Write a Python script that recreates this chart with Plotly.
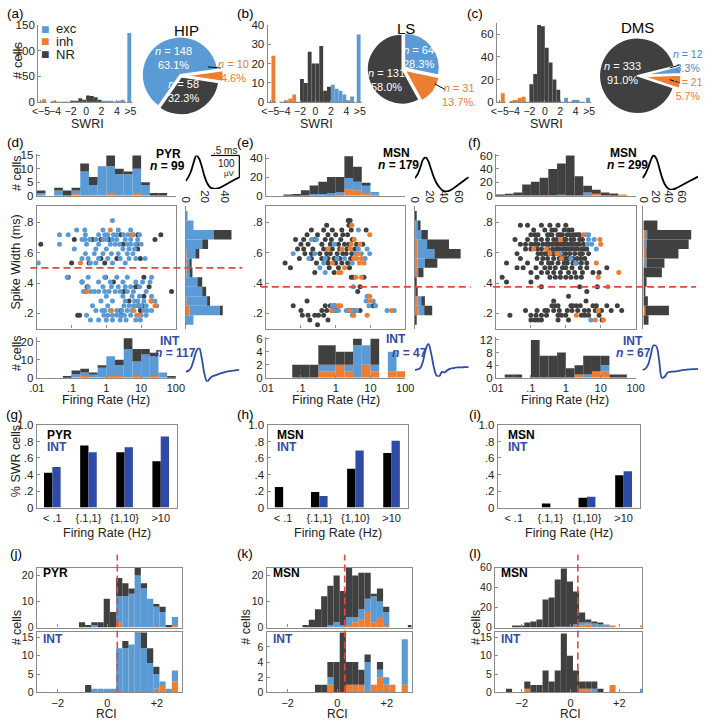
import plotly.graph_objects as go

W, H = 709, 726
FONT = "Liberation Sans, Arial, Helvetica, sans-serif"
C_EXC = "#5B9BD5"
C_INH = "#ED7D31"
C_NR = "#404040"
C_INT = "#2F4BA6"
C_RED = "#E5463D"
C_AX = "#8A8A8A"
C_TXT = "#222222"

# ---------------- (a)-(c) SWRI histograms ----------------
SWRI_BINS = [-5.45, -4.25, -3.75, -3.25, -2.75, -2.25, -1.75, -1.25, -0.75, -0.25,
             0.25, 0.75, 1.25, 1.75, 2.25, 2.75, 3.25, 3.75, 4.25, 4.75, 5.6]
SWRI_TICKS = [-5.85, -4, -2, 0, 2, 4, 5.75]
SWRI_TICKTEXT = ["<\u22125", "\u22124", "\u22122", "0", "2", "4", ">5"]
SWRI_SEGMENTS = [-6.2, -5.1, None, -4.65, 5.2, None, 5.3, 6.0]

HIP_INH = [6, 2, 1, 0, 1, 0, 0, 0, 0, 0, 0, 0, 0, 0, 0, 0, 0, 0, 0, 0, 0]
HIP_EXC = [0, 0, 0, 0, 0, 0, 0, 0, 0, 0, 0, 0, 0, 0, 2, 2, 2, 1, 2, 5, 134]
HIP_NR = [0, 0, 0, 0, 0, 0, 2, 3, 8, 5, 13, 12, 10, 5, 0, 0, 0, 0, 0, 0, 0]
LS_INH = [24, 0, 1, 2, 4, 0, 0, 0, 0, 0, 0, 0, 0, 0, 0, 0, 0, 0, 0, 0, 0]
LS_EXC = [0, 0, 0, 0, 0, 0, 0, 0, 0, 0, 0, 0, 0, 0, 9, 7, 6, 4, 1, 3, 35]
LS_NR = [0, 0, 0, 0, 0, 0, 12, 10, 26, 20, 20, 29, 6, 8, 0, 0, 0, 0, 0, 0, 0]
DMS_INH = [8, 1, 2, 4, 5, 0, 0, 0, 0, 0, 0, 0, 0, 0, 0, 0, 0, 0, 0, 0, 0]
DMS_EXC = [0, 0, 0, 0, 0, 0, 0, 0, 0, 0, 0, 0, 0, 0, 0, 4, 0, 2, 2, 0, 4]
DMS_NR = [0, 0, 0, 0, 0, 0, 16, 25, 68, 67, 48, 35, 20, 11, 0, 0, 0, 0, 0, 0, 0]

# pies (percentages and counts, per region)
HIP_PIE = {"inh": (4.6, 10), "NR": (32.3, 58), "exc": (63.1, 148)}
LS_PIE = {"exc": (28.3, 64), "inh": (13.7, 31), "NR": (58.0, 131)}
DMS_PIE = {"exc": (3.3, 12), "inh": (5.7, 21), "NR": (91.0, 333)}

# ---------------- (d)-(f) firing rate / spike width ----------------
LOGF_BINS = [-1.875, -1.625, -1.375, -1.125, -0.875, -0.625, -0.375, -0.125,
             0.125, 0.375, 0.625, 0.875, 1.125, 1.375, 1.625, 1.875]
LOGF_TICKS = [-2, -1, 0, 1, 2]
LOGF_TICKTEXT = [".01", ".1", "1", "10", "100"]

D_TOP_INH = [0, 0, 0, 0, 1, 0, 0, 0, 1, 0, 0, 1, 0, 0, 0, 0]
D_TOP_EXC = [1, 0, 2, 0, 1, 9, 4, 11, 10, 8, 8, 9, 4, 0, 0, 0]
D_TOP_NR = [1, 0, 1, 2, 1, 3, 3, 0, 4, 2, 1, 5, 1, 1, 1, 0]
D_BOT_INH = [0, 0, 0, 0, 0, 1, 0, 0, 1, 1, 0, 1, 0, 1, 0, 0]
D_BOT_EXC = [0, 0, 0, 0, 2, 2, 2, 6, 11, 6, 16, 8, 13, 11, 3, 0]
D_BOT_NR = [0, 0, 0, 1, 2, 2, 1, 1, 0, 3, 6, 7, 3, 2, 0, 1]
E_TOP_INH = [0, 0, 0, 0, 0, 0, 0, 1, 2, 7, 6, 3, 1, 0, 0, 0]
E_TOP_EXC = [0, 0, 0, 0, 0, 2, 2, 2, 2, 12, 9, 9, 3, 0, 0, 0]
E_TOP_NR = [0, 0, 1, 2, 6, 9, 13, 17, 16, 23, 16, 2, 0, 0, 0, 0]
E_BOT_INH = [0, 0, 0, 0, 0, 0, 1, 1, 2, 1, 0, 2, 1, 0, 1, 1]
E_BOT_EXC = [0, 0, 0, 0, 0, 0, 1, 1, 0, 1, 5, 3, 1, 0, 3, 0]
E_BOT_NR = [0, 0, 0, 2, 2, 2, 3, 3, 2, 2, 1, 0, 4, 0, 0, 0]
F_TOP_INH = [0, 0, 0, 0, 1, 0, 1, 1, 1, 0, 1, 3, 1, 1, 1, 0]
F_TOP_EXC = [0, 0, 0, 0, 0, 0, 0, 1, 0, 0, 4, 0, 0, 0, 0, 0]
F_TOP_NR = [2, 3, 5, 17, 20, 27, 39, 46, 59, 29, 10, 6, 4, 2, 0, 0]
F_BOT_INH = [0, 0, 0, 0, 0, 0, 0, 0, 0, 1, 0, 2, 2, 0, 0, 0]
F_BOT_EXC = [0, 0, 0, 0, 0, 0, 0, 0, 0, 0, 1, 0, 2, 0, 0, 0]
F_BOT_NR = [0, 1, 1, 0, 12, 7, 7, 8, 3, 3, 6, 5, 3, 1, 1, 0]

SW_BINS = [0.15625, 0.21875, 0.28125, 0.34375, 0.40625, 0.46875,
           0.53125, 0.59375, 0.65625, 0.71875, 0.78125, 0.84375]
SW_TICKS = [0.2, 0.4, 0.6, 0.8]
SW_TICKTEXT = [".2", ".4", ".6", ".8"]
D_SIDE_INH = [0, 4, 1, 0, 0, 1, 1, 1, 0, 0, 0, 0]
D_SIDE_EXC = [8, 31, 21, 17, 12, 3, 4, 9, 17, 29, 8, 2]
D_SIDE_NR = [0, 3, 3, 4, 5, 3, 1, 4, 6, 18, 0, 0]
E_SIDE_INH = [0, 5, 4, 1, 0, 3, 4, 4, 4, 2, 1, 0]
E_SIDE_EXC = [0, 8, 5, 1, 1, 2, 10, 23, 13, 7, 3, 0]
E_SIDE_NR = [2, 11, 5, 1, 1, 7, 17, 36, 30, 9, 4, 2]
F_SIDE_INH = [0, 3, 0, 0, 0, 0, 3, 4, 3, 4, 0, 0]
F_SIDE_EXC = [0, 0, 0, 0, 0, 0, 2, 1, 2, 2, 0, 0]
F_SIDE_NR = [8, 37, 7, 3, 5, 29, 28, 50, 66, 71, 22, 0]

THR_HIP = 0.5
THR_STR = 0.375

# scatter: spike width (ms) -> firing rates (Hz)
D_NR = {0.71875: [2.6, 8.0, 37.0], 0.6875: [0.12, 0.4, 0.7, 1.2, 25.0], 0.65625: [0.013, 3.0, 7.5],
        0.625: [8.0], 0.5625: [0.7, 2.0, 9.5], 0.53125: [0.1, 0.32, 0.9], 0.4375: [0.08, 0.95, 12.0],
        0.40625: [0.2, 1.6], 0.375: [0.28, 7.0, 8.0, 17.0], 0.34375: [0.25, 3.2, 75.0], 0.3125: [12.0],
        0.28125: [4.5, 20.0], 0.25: [8.5, 11.0], 0.21875: [2.6, 9.5], 0.1875: [0.15, 0.17, 2.7]}
D_EXC = {0.8125: [1.5], 0.75: [0.14, 0.24, 0.8, 2.2, 5.0],
         0.71875: [0.045, 0.08, 0.25, 0.6, 0.9, 1.1, 1.6, 2.0, 3.1, 4.2, 6.0, 9.0],
         0.6875: [0.2, 0.24, 0.33, 0.5, 0.8, 1.0, 1.5, 2.0, 3.5, 5.0, 8.0],
         0.65625: [0.045, 0.27, 0.6, 1.3, 1.8, 2.4, 4.0, 5.0, 7.0, 10.0],
         0.625: [0.12, 0.5, 1.0, 3.0, 4.5, 6.5], 0.59375: [0.25, 0.45, 0.8, 1.4, 2.2, 4.0, 5.8],
         0.5625: [0.2, 0.3, 0.6, 1.1, 2.5, 4.5, 7.0, 13.0], 0.53125: [0.011, 0.35, 0.5, 1.5, 3.5],
         0.4375: [0.075, 0.3, 0.9, 2.0, 4.0, 20.0], 0.40625: [0.2, 0.6, 1.3, 3.0, 7.0, 11.0, 18.0],
         0.375: [0.3, 0.8, 1.4, 2.2, 3.5, 5.0, 9.0],
         0.34375: [0.22, 0.35, 0.45, 0.6, 0.9, 1.2, 1.8, 2.5, 4.0, 6.0, 14.0],
         0.3125: [1.0, 3.0, 5.5, 9.0, 20.0], 0.28125: [0.7, 1.5, 3.5, 6.5, 8.0, 12.0, 25.0],
         0.25: [0.4, 1.1, 3.2, 4.5, 6.0, 7.5, 10.0, 14.0, 28.0],
         0.21875: [0.5, 0.75, 0.9, 1.3, 2.0, 2.8, 4.0, 5.5, 12.0, 15.0, 20.0],
         0.1875: [0.27, 0.85, 1.1, 1.5, 2.0, 2.5, 3.3, 5.0, 7.5, 10.0, 14.0],
         0.15625: [0.35, 0.6, 1.0, 1.5, 2.5, 3.7, 7.0, 9.5]}
D_INH = {0.75: [1.3], 0.71875: [5.5], 0.53125: [0.18], 0.34375: [0.27], 0.28125: [19.0],
         0.25: [25.0], 0.21875: [1.4, 6.2], 0.1875: [8.5]}

E_NR = {0.8125: [2.3, 2.6], 0.78125: [0.55, 2.4], 0.75: [0.2, 0.45, 0.8, 1.5, 2.8, 7.5],
        0.71875: [0.15, 0.3, 0.6, 1.0, 1.6, 2.2], 0.6875: [0.07, 0.12, 0.25, 0.5, 0.75, 1.4, 3.0],
        0.65625: [0.1, 0.16, 0.4, 0.7, 1.2, 1.8, 2.4, 4.0, 6.0],
        0.625: [0.08, 0.12, 0.22, 0.45, 0.8, 1.3, 2.1, 3.5],
        0.59375: [0.13, 0.2, 0.35, 0.55, 0.7, 1.1, 1.6, 2.0, 2.9],
        0.5625: [0.09, 0.2, 0.4, 0.6, 0.9, 1.3, 2.7], 0.53125: [0.035, 0.28, 0.6, 1.0, 1.5, 2.2],
        0.5: [0.05, 0.65, 1.2, 2.5], 0.46875: [0.25, 0.9], 0.4375: [2.8, 3.2, 6.5], 0.375: [5.0],
        0.34375: [4.3], 0.28125: [0.15], 0.25: [0.06, 0.5, 0.7, 0.9, 12.0, 13.0],
        0.21875: [0.1, 0.4, 0.55, 0.8, 1.0, 2.4, 2.8, 3.5, 5.0],
        0.1875: [0.11, 0.16, 0.25, 0.32, 0.45], 0.15625: [0.18, 0.6], 0.125: [0.3]}
E_EXC = {0.75: [4.5], 0.6875: [0.2, 0.28], 0.65625: [0.9], 0.625: [4.5, 8.0],
         0.59375: [0.06, 0.25, 3.8, 5.5, 9.5], 0.5625: [0.17, 0.5, 1.1, 1.8, 7.0], 0.53125: [0.45, 3.0],
         0.5: [0.35], 0.46875: [0.5], 0.375: [3.2], 0.3125: [8.0, 9.0], 0.28125: [7.5, 12.0],
         0.25: [0.8, 1.0, 9.0, 14.0], 0.21875: [0.9, 1.2, 2.0, 3.2, 4.0, 30.0, 48.0], 0.1875: [3.0]}
E_INH = {0.78125: [2.9], 0.71875: [9.5], 0.6875: [3.4], 0.65625: [2.8, 5.0], 0.625: [0.6, 1.5, 2.6],
         0.59375: [4.5], 0.5625: [3.3, 4.0, 5.5], 0.53125: [0.8, 4.8, 6.5], 0.5: [1.8],
         0.46875: [1.2, 1.4], 0.4375: [3.8, 5.5], 0.3125: [9.5], 0.28125: [10.0], 0.25: [1.2, 1.4],
         0.21875: [0.75, 2.6, 40.0], 0.1875: [3.3, 8.0]}

F_NR = {0.78125: [0.05, 0.08, 0.2, 0.35, 0.6, 1.0], 0.75: [0.12, 0.25, 0.4, 0.5, 0.9, 1.2, 1.5],
        0.71875: [0.1, 0.13, 0.16, 0.3, 0.35, 0.4, 0.6, 0.7, 0.8, 1.1, 1.3, 1.6, 1.9, 2.2, 2.5],
        0.6875: [0.035, 0.08, 0.14, 0.2, 0.3, 0.45, 0.55, 0.9, 1.0, 1.4, 1.7, 2.5, 3.0],
        0.65625: [0.05, 0.07, 0.1, 0.13, 0.16, 0.22, 0.28, 0.33, 0.4, 0.5, 0.6, 0.75, 0.9, 1.1,
                  1.35, 1.6, 2.0, 2.4, 3.2],
        0.625: [0.07, 0.1, 0.15, 0.2, 0.3, 0.42, 0.55, 0.65, 0.85, 1.0, 1.2, 1.5, 1.8, 2.1, 2.8, 3.5, 4.0],
        0.59375: [0.04, 0.16, 0.2, 0.25, 0.3, 0.38, 0.45, 0.5, 0.6, 0.8, 1.0, 1.3, 1.8, 2.5, 3.0, 4.5],
        0.5625: [0.05, 0.15, 0.22, 0.3, 0.45, 0.65, 0.8, 1.0, 1.2, 1.6, 2.1, 2.7, 3.5],
        0.53125: [0.02, 0.08, 0.2, 0.32, 0.4, 0.6, 0.9, 1.1, 1.6, 2.0, 2.8, 4.0],
        0.5: [0.04, 0.06, 0.14, 0.25, 0.35, 0.5, 0.8, 1.0, 1.5, 2.6, 4.0, 15.0],
        0.46875: [0.1, 0.2, 0.3, 0.45, 0.7, 1.2, 1.8, 3.0, 6.0, 9.0],
        0.4375: [0.015, 0.15, 0.35, 0.5, 0.7, 1.0, 1.4, 2.0, 2.8], 0.40625: [0.02, 0.1],
        0.375: [0.2, 2.5, 8.0], 0.34375: [4.0], 0.3125: [1.2], 0.28125: [0.45, 3.8],
        0.25: [0.4, 0.5, 0.6, 1.4, 1.6, 2.0, 2.6, 6.0, 7.5, 15.0, 30.0],
        0.21875: [0.07, 0.15, 0.25, 0.3, 0.45, 0.65, 1.1, 1.5, 2.2, 3.4, 4.5, 7.0, 10.5, 20.0, 40.0],
        0.1875: [0.025, 0.1, 0.14, 0.2, 0.28, 0.6, 0.75, 1.0, 2.8, 3.5, 4.5, 9.0],
        0.15625: [0.1, 0.13, 0.16, 0.2, 0.6, 1.2, 11.0]}
F_EXC = {0.71875: [3.8, 4.5], 0.6875: [4.5, 6.5], 0.65625: [4.2, 5.5], 0.625: [7.5], 0.59375: [0.7],
         0.5625: [1.4], 0.53125: [1.9], 0.15625: [5.2]}
F_INH = {0.71875: [3.2], 0.6875: [0.7, 9.5], 0.65625: [10.0], 0.625: [0.12, 0.28],
         0.59375: [0.35, 0.55, 0.6], 0.5625: [0.75], 0.53125: [7.5], 0.46875: [33.0], 0.4375: [8.5],
         0.375: [16.0], 0.21875: [8.5], 0.1875: [2.0], 0.15625: [7.0, 12.0]}

# average waveforms (arbitrary amplitude units, 21 samples)
PYR_WAVE_D = [8, 12, 18, 27, 34, 31, 23, 13, 6, 2, 0.5, 0, 0.5, 1.5, 3, 4.5, 6, 7.5, 9, 10.5, 11.5]
INT_WAVE_D = [10.3, 11, 14, 22, 31, 34.5, 24, 8, 0, 3, 5.5, 6.5, 7.5, 8.5, 9.3, 10, 10.5, 11, 11.3, 11.7, 12]
MSN_WAVE_E = [14, 18, 25, 33, 35, 31, 23, 15, 9, 5, 2, 0.5, 0.5, 1.5, 3, 5, 7, 9, 11, 13, 15]
INT_WAVE_E = [7, 7.5, 9, 16, 28, 33.5, 24, 10, 1.5, 0.5, 5, 4.5, 6.5, 8, 8.8, 9.2, 9.5, 9.6, 9.7, 9.8, 9.8]
MSN_WAVE_F = [12, 16, 22, 30, 35, 32, 23, 13, 6, 2, 0.3, 0.5, 1.5, 3, 4.5, 6, 7.5, 9, 10.5, 12, 13.5]
INT_WAVE_F = [10, 11, 15, 25, 35, 34, 20, 2, 3, 7, 8, 8.3, 8.5, 9, 9.5, 10, 10.3, 10.5, 10.7, 10.8, 11]

# ---------------- (g)-(i) fraction of SWR cells ----------------
FR_CATS = ["< .1", "{.1,1}", "{1,10}", ">10"]
G_PYR = [0.42, 0.75, 0.67, 0.56]
G_INT = [0.49, 0.67, 0.73, 0.86]
H_MSN = [0.25, 0.19, 0.47, 0.66]
H_INT = [None, 0.14, 0.69, 0.81]
I_MSN = [None, 0.05, 0.12, 0.39]
I_INT = [None, None, 0.13, 0.44]

# ---------------- (j)-(l) RCI histograms ----------------
RCI_BINS = [-2.775, -2.525, -2.275, -2.025, -1.775, -1.525, -1.275, -1.025, -0.775, -0.525, -0.275,
            -0.025, 0.225, 0.475, 0.725, 0.975, 1.225, 1.475, 1.725, 1.975, 2.225, 2.475, 2.725, 2.975]
RED_J, RED_K, RED_L = 0.4, 0.3, 0.3
J_TOP_INH = [0, 0, 0, 0, 0, 0, 0, 0, 0, 0, 0, 0, 0, 2, 0, 0, 0, 0, 0, 0, 0, 0, 1, 0]
J_TOP_EXC = [0, 0, 0, 0, 0, 0, 0, 0, 0, 1, 0, 0, 0, 10, 12, 13, 20, 15, 11, 8, 6, 0, 3, 0]
J_TOP_NR = [0, 0, 0, 0, 0, 0, 0, 2, 1, 1, 2, 11, 6, 7, 5, 2, 3, 2, 0, 1, 2, 1, 0, 0]
J_BOT_INH = [0, 0, 0, 0, 0, 0, 0, 0, 0, 0, 0, 0, 0, 0, 0, 0, 0, 0, 0, 1, 2, 0, 3, 0]
J_BOT_EXC = [0, 0, 0, 0, 0, 0, 0, 0, 0, 1, 1, 1, 1, 12, 12, 13, 16, 12, 8, 4, 1, 1, 3, 0]
J_BOT_NR = [0, 0, 0, 0, 0, 0, 0, 0, 2, 0, 0, 0, 0, 0, 2, 0, 3, 5, 4, 2, 0, 0, 0, 0]
K_TOP_INH = [0, 0, 0, 0, 0, 0, 0, 0, 0, 0, 0, 0, 0, 1, 2, 3, 6, 2, 4, 1, 0, 0, 0, 0]
K_TOP_EXC = [0, 0, 0, 0, 0, 0, 0, 0, 0, 0, 1, 2, 1, 3, 2, 4, 5, 10, 6, 5, 0, 0, 0, 0]
K_TOP_NR = [0, 0, 0, 0, 0, 0, 1, 3, 7, 12, 15, 18, 13, 19, 16, 14, 10, 1, 5, 2, 0, 0, 0, 1]
K_BOT_INH = [0, 0, 0, 0, 0, 0, 0, 0, 0, 0, 1, 0, 0, 1, 1, 1, 0, 1, 2, 1, 1, 0, 1, 0]
K_BOT_EXC = [0, 0, 0, 0, 0, 0, 0, 0, 0, 0, 1, 0, 0, 0, 0, 0, 4, 0, 1, 1, 0, 0, 6, 0]
K_BOT_NR = [0, 0, 0, 0, 0, 0, 0, 0, 1, 1, 2, 4, 8, 3, 3, 2, 1, 0, 1, 0, 0, 0, 0, 0]
L_TOP_INH = [0, 0, 0, 0, 0, 0, 0, 0, 0, 1, 0, 0, 1, 2, 3, 1, 0, 1, 1, 0, 0, 0, 0, 1]
L_TOP_EXC = [0, 0, 0, 0, 0, 0, 0, 0, 0, 0, 1, 1, 2, 3, 2, 3, 3, 1, 0, 0, 0, 0, 0, 0]
L_TOP_NR = [0, 0, 1, 1, 5, 6, 8, 28, 30, 47, 58, 45, 33, 10, 3, 1, 1, 0, 0, 0, 0, 0, 0, 0]
L_BOT_INH = [0, 0, 0, 0, 1, 0, 0, 0, 0, 0, 0, 0, 0, 1, 1, 0, 0, 0, 2, 0, 0, 0, 0, 0]
L_BOT_EXC = [0, 0, 0, 0, 0, 0, 0, 0, 0, 0, 0, 0, 0, 0, 0, 1, 0, 0, 0, 0, 0, 0, 0, 1]
L_BOT_NR = [0, 1, 0, 0, 2, 2, 2, 6, 3, 6, 16, 10, 6, 2, 2, 2, 1, 0, 0, 0, 0, 0, 0, 0]

# =====================================================================
fig = go.Figure()
LAYOUT = dict(width=W, height=H, margin=dict(l=0, r=0, t=0, b=0), paper_bgcolor="white",
              plot_bgcolor="rgba(0,0,0,0)", showlegend=False, barmode="overlay",
              font=dict(family=FONT, size=12, color=C_TXT))
ANN = []
SHP = []
_n = [0]


def axis_style(**kw):
    d = dict(showgrid=False, zeroline=False, showline=True, linecolor=C_AX, linewidth=1.3,
             ticks="inside", ticklen=3, tickwidth=1, tickcolor=C_AX,
             tickfont=dict(size=11.5, color=C_TXT, family=FONT), fixedrange=True)
    d.update(kw)
    return d


def new_axes(xpx, ypx, xa, ya):
    _n[0] += 1
    s = "" if _n[0] == 1 else str(_n[0])
    xr, yr = "x" + s, "y" + s
    xd = axis_style(**xa)
    xd.update(domain=[xpx[0] / W, xpx[1] / W], anchor=yr)
    yd = axis_style(**ya)
    yd.update(domain=[1 - ypx[1] / H, 1 - ypx[0] / H], anchor=xr)
    LAYOUT["xaxis" + s] = xd
    LAYOUT["yaxis" + s] = yd
    return xr, yr


def stacked(xr, yr, centers, layers, width, horizontal=False):
    base = [0] * len(centers)
    for vals, col in layers:
        kw = dict(base=base, width=width, marker=dict(color=col, line=dict(width=0)),
                  xaxis=xr, yaxis=yr, hoverinfo="skip")
        if horizontal:
            fig.add_trace(go.Bar(y=centers, x=vals, orientation="h", **kw))
        else:
            fig.add_trace(go.Bar(x=centers, y=vals, **kw))
        base = [b + v for b, v in zip(base, vals)]


def text(s, x, y, size=12, color=C_TXT, xanchor="center", yanchor="middle", angle=0, align="center"):
    ANN.append(dict(text=s, x=x / W, y=1 - y / H, xref="paper", yref="paper", showarrow=False,
                    xanchor=xanchor, yanchor=yanchor, textangle=angle, align=align,
                    font=dict(size=size, color=color, family=FONT)))


def pline(x0, y0, x1, y1, color="black", width=1.0):
    SHP.append(dict(type="line", xref="paper", yref="paper", x0=x0 / W, x1=x1 / W,
                    y0=1 - y0 / H, y1=1 - y1 / H, line=dict(color=color, width=width)))


def flatten(rows):
    xs, ys = [], []
    for w, rates in rows.items():
        for r in rates:
            xs.append(r)
            ys.append(w)
    return xs, ys


# ---------------- row 1 ----------------
def swri_panel(x0, ytop, yrange, yticks, inh, exc, nr):
    xr, yr = new_axes((x0, x0 + 98), (ytop, 99),
                      dict(range=[-6.2, 6.2], showline=False, tickvals=SWRI_TICKS, ticktext=SWRI_TICKTEXT,
                           tickangle=0, tickfont=dict(size=10.5, color=C_TXT, family=FONT)),
                      dict(range=yrange, tickvals=yticks))
    stacked(xr, yr, SWRI_BINS, [(inh, C_INH), (exc, C_EXC), (nr, C_NR)], 0.5)
    fig.add_trace(go.Scatter(x=SWRI_SEGMENTS, y=[0 if v is not None else None for v in SWRI_SEGMENTS],
                             mode="lines", line=dict(color=C_AX, width=1.3), xaxis=xr, yaxis=yr,
                             hoverinfo="skip"))


swri_panel(31, 19, [-2, 150], [0, 50, 100, 150], HIP_INH, HIP_EXC, HIP_NR)
swri_panel(266, 19, [-0.55, 40], [0, 10, 20, 30, 40], LS_INH, LS_EXC, LS_NR)
swri_panel(501, 17, [-0.87, 70], [0, 20, 40, 60], DMS_INH, DMS_EXC, DMS_NR)

COLS = {"exc": C_EXC, "inh": C_INH, "NR": C_NR}


def pie(data, cx, cy, r, rotation, pulls):
    mp = max(pulls)
    half = r * (1 + mp)
    keys = list(data.keys())
    fig.add_trace(go.Pie(values=[data[k][0] for k in keys], labels=keys, sort=False,
                         direction="clockwise", rotation=rotation, pull=pulls,
                         marker=dict(colors=[COLS[k] for k in keys], line=dict(color="white", width=1.5)),
                         textinfo="none", hoverinfo="skip",
                         domain=dict(x=[(cx - half) / W, (cx + half) / W],
                                     y=[1 - (cy + half) / H, 1 - (cy - half) / H])))


pie(HIP_PIE, 177, 71, 39, 82, [0.12, 0.03, 0.03])
pie(LS_PIE, 405, 64, 36, 0, [0.04, 0.06, 0.03])
pie(DMS_PIE, 646, 71, 39, 76, [0.12, 0.12, 0.03])


def pie_lbl(d, key):
    return "<i>n</i> = %d<br>%.1f%%" % (d[key][1], d[key][0])


text("HIP", 183, 25, size=15, color="black")
text("LS", 408, 23, size=15, color="black")
text("DMS", 645, 22, size=15, color="black")
text(pie_lbl(HIP_PIE, "exc"), 170, 53, size=11, color="white")
text(pie_lbl(HIP_PIE, "NR"), 180, 86, size=11, color="white")
text(pie_lbl(HIP_PIE, "inh"), 231, 66, size=11, color=C_INH)
pline(205, 62, 218, 63)
text(pie_lbl(LS_PIE, "exc"), 421, 52, size=11, color="white")
text(pie_lbl(LS_PIE, "NR"), 388, 75, size=11, color="white")
text(pie_lbl(LS_PIE, "inh") + ".", 462, 90, size=11, color=C_INH)
pline(437, 79, 448, 85)
text(pie_lbl(DMS_PIE, "NR"), 630, 68, size=11, color="white")
text(pie_lbl(DMS_PIE, "exc"), 697, 56, size=10.5, color="#4A86C5")
text(pie_lbl(DMS_PIE, "inh"), 697, 84, size=10.5, color=C_INH)
pline(678, 63, 688, 60)
pline(678, 75, 688, 78)

# legend
for i, (lab, col) in enumerate([("exc", C_EXC), ("inh", C_INH), ("NR", C_NR)]):
    text("\u25A0", 38, 23 + 13 * i, size=14, color=col)
    text(lab, 47, 23 + 13 * i, size=13, color=C_TXT, xanchor="left")
text("# cells", 9, 55, size=13, angle=-90)
for cx in (81, 316, 552):
    text("SWRI", cx, 120, size=12.5)


# ---------------- row 2 ----------------
def fr_panel(x0, x1, top, bot, side, sc_sets, thr, red_span, waves):
    xr, yr = new_axes((x0, x1), (150, 193), dict(range=[-2, 2], showticklabels=False, ticks=""),
                      dict(range=top[0], tickvals=top[1]))
    stacked(xr, yr, LOGF_BINS, top[2], 0.25)
    xr, yr = new_axes((x0, x1), (203, 328),
                      dict(type="log", range=[-2, 2], tickvals=[0.01, 0.1, 1, 10, 100],
                           showticklabels=False, mirror=True),
                      dict(range=[0.1, 0.91], tickvals=SW_TICKS, ticktext=SW_TICKTEXT, mirror=True))
    for rows, col in sc_sets:
        xs, ys = flatten(rows)
        fig.add_trace(go.Scatter(x=xs, y=ys, mode="markers", marker=dict(size=5, color=col),
                                 xaxis=xr, yaxis=yr, hoverinfo="skip"))
    SHP.append(dict(type="line", xref="paper", yref=yr, x0=red_span[0] / W, x1=red_span[1] / W,
                    y0=thr, y1=thr, line=dict(color=C_RED, width=1.6, dash="7px,4px"), layer="above"))
    xr, yr = new_axes((side[0], side[1]), (203, 328),
                      dict(range=side[2], side="top", tickvals=side[3], tickangle=90, showline=False,
                           ticks=""),
                      dict(range=[0.1, 0.91], showticklabels=False, ticks=""))
    stacked(xr, yr, SW_BINS, side[4], 0.0625, horizontal=True)
    xr, yr = new_axes((x0, x1), (337, 378),
                      dict(range=[-2, 2], tickvals=LOGF_TICKS, ticktext=LOGF_TICKTEXT,
                           tickfont=dict(size=11, color=C_TXT, family=FONT)),
                      dict(range=bot[0], tickvals=bot[1]))
    stacked(xr, yr, LOGF_BINS, bot[2], 0.25)
    for (wx, wy, yrng, data, col) in waves:
        xr, yr = new_axes(wx, wy, dict(visible=False, range=[0, 20]), dict(visible=False, range=yrng))
        fig.add_trace(go.Scatter(x=list(range(len(data))), y=data, mode="lines",
                                 line=dict(color=col, width=1.8, shape="spline"),
                                 xaxis=xr, yaxis=yr, hoverinfo="skip"))


fr_panel(29.5, 172,
         ([0, 15.7], [0, 5, 10, 15], [(D_TOP_INH, C_INH), (D_TOP_EXC, C_EXC), (D_TOP_NR, C_NR)]),
         ([0, 22.5], [0, 10, 20], [(D_BOT_INH, C_INH), (D_BOT_EXC, C_EXC), (D_BOT_NR, C_NR)]),
         (182, 230, [0, 48], [0, 20, 40], [(D_SIDE_INH, C_INH), (D_SIDE_EXC, C_EXC), (D_SIDE_NR, C_NR)]),
         [(D_NR, C_NR), (D_EXC, C_EXC), (D_INH, C_INH)], THR_HIP, (23, 240),
         [((182, 237), (152, 186), [0, 34], PYR_WAVE_D, "black"),
          ((182, 237), (347.5, 382), [0, 34.5], INT_WAVE_D, C_INT)])
fr_panel(264.5, 407,
         ([0, 45], [0, 20, 40], [(E_TOP_INH, C_INH), (E_TOP_EXC, C_EXC), (E_TOP_NR, C_NR)]),
         ([0, 6.2], [0, 2, 4, 6], [(E_BOT_INH, C_INH), (E_BOT_EXC, C_EXC), (E_BOT_NR, C_NR)]),
         (416.7, 466, [0, 66], [0, 20, 40, 60], [(E_SIDE_INH, C_INH), (E_SIDE_EXC, C_EXC), (E_SIDE_NR, C_NR)]),
         [(E_NR, C_NR), (E_EXC, C_EXC), (E_INH, C_INH)], THR_STR, (259, 474),
         [((417, 472), (153, 189), [0, 36], MSN_WAVE_E, "black"),
          ((417, 472), (343, 377), [0, 34], INT_WAVE_E, C_INT)])
fr_panel(500, 643,
         ([0, 63], [0, 20, 40, 60], [(F_TOP_INH, C_INH), (F_TOP_EXC, C_EXC), (F_TOP_NR, C_NR)]),
         ([0, 12.8], [0, 4, 8, 12], [(F_BOT_INH, C_INH), (F_BOT_EXC, C_EXC), (F_BOT_NR, C_NR)]),
         (651, 700, [0, 75], [0, 20, 40, 60], [(F_SIDE_INH, C_INH), (F_SIDE_EXC, C_EXC), (F_SIDE_NR, C_NR)]),
         [(F_NR, C_NR), (F_EXC, C_EXC), (F_INH, C_INH)], THR_STR, (497, 705),
         [((650, 707), (151, 187), [0, 36], MSN_WAVE_F, "black"),
          ((650, 707), (344, 380), [0, 36], INT_WAVE_F, C_INT)])

# scale bar (d)
pline(208, 152, 237, 152, width=1.2)
pline(237, 152, 237, 175, width=1.2)
text(".5 ms", 222, 146.5, size=10)
text("100", 235, 160.5, size=10, xanchor="right")
text("\u00b5V", 235, 170, size=8, xanchor="right")

text("<b>PYR</b>", 164, 150.5, size=12, color="black")
text("<b><i>n</i> = 99</b>", 163, 163, size=12, color="black")
text("<b>MSN</b>", 398, 149, size=12, color="black")
text("<b><i>n</i> = 179</b>", 400, 162, size=12, color="black")
text("<b>MSN</b>", 631, 149, size=12, color="black")
text("<b><i>n</i> = 299</b>", 635, 162, size=12, color="black")
text("<b>INT</b>", 166, 341, size=12, color=C_INT)
text("<b><i>n</i> = 117</b>", 172, 352.5, size=12, color=C_INT)
text("<b>INT</b>", 398, 339, size=12, color=C_INT)
text("<b><i>n</i> = 47</b>", 411, 352.5, size=12, color=C_INT)
text("<b>INT</b>", 640, 341, size=12, color=C_INT)
text("<b><i>n</i> = 67</b>", 641, 352.5, size=12, color=C_INT)

text("# cells", 9, 170, size=12.5, angle=-90)
text("Spike Width (ms)", 8, 260, size=12.5, angle=-90)
text("# cells", 9, 353, size=12.5, angle=-90)
for cx in (100, 336, 571):
    text("Firing Rate (Hz)", cx, 401, size=12.5)


# ---------------- row 3 ----------------
def frac_panel(x0, x1, a_vals, b_vals, a_label):
    xr, yr = new_axes((x0, x1), (426, 510),
                      dict(range=[-0.43, 3.46], mirror=True, ticks="",
                           tickfont=dict(size=11, color=C_TXT, family=FONT)),
                      dict(range=[0, 1], tickvals=[0, 0.2, 0.4, 0.6, 0.8, 1.0],
                           ticktext=["0", ".2", ".4", ".6", ".8", "1.0"], mirror=True))
    fig.add_trace(go.Bar(x=FR_CATS, y=a_vals, width=0.23, offset=-0.23,
                         marker=dict(color="black", line=dict(width=0)), xaxis=xr, yaxis=yr, hoverinfo="skip"))
    fig.add_trace(go.Bar(x=FR_CATS, y=b_vals, width=0.23, offset=0.0,
                         marker=dict(color=C_INT, line=dict(width=0)), xaxis=xr, yaxis=yr, hoverinfo="skip"))
    text("<b>%s</b>" % a_label, x0 + 8, 436, size=12, color="black", xanchor="left")
    text("<b>INT</b>", x0 + 8, 448.5, size=12, color=C_INT, xanchor="left")
    text("Firing Rate (Hz)", (x0 + x1) / 2, 536, size=12.5)


frac_panel(29.5, 173.5, G_PYR, G_INT, "PYR")
frac_panel(266, 410, H_MSN, H_INT, "MSN")
frac_panel(502, 648, I_MSN, I_INT, "MSN")
text("% SWR cells", 9, 463, size=12.5, angle=-90)


# ---------------- row 4 ----------------
def rci_panel(x0, x1, xrange, red_x, top, bot, a_label, zero_x):
    yfont = dict(size=10.5, color=C_TXT, family=FONT)
    xr, yr = new_axes((x0, x1), (571, 632),
                      dict(range=xrange, tickvals=[-2, 0, 2], showticklabels=False, mirror=True),
                      dict(range=top[0], tickvals=top[1], mirror=True, tickfont=yfont))
    stacked(xr, yr, RCI_BINS, top[2], 0.25)
    xr, yr = new_axes((x0, x1), (637, 698),
                      dict(range=xrange, tickvals=[-2, 0, 2], ticktext=["\u22122", "0", "+2"], mirror=True,
                           tickfont=dict(size=11, color=C_TXT, family=FONT)),
                      dict(range=bot[0], tickvals=bot[1], mirror=True, tickfont=yfont))
    stacked(xr, yr, RCI_BINS, bot[2], 0.25)
    SHP.append(dict(type="line", xref=xr, yref="paper", x0=red_x, x1=red_x, y0=1 - 698 / H, y1=1 - 558 / H,
                    line=dict(color=C_RED, width=1.6, dash="7px,4px"), layer="above"))
    text("<b>%s</b>" % a_label, x0 + 4, 577, size=12, color="black", xanchor="left")
    text("<b>INT</b>", x0 + 4, 644, size=12, color=C_INT, xanchor="left")
    text("RCI", zero_x, 719.5, size=12)


rci_panel(29.5, 178, [-2.85, 3.0], RED_J,
          ([0, 23], [0, 10, 20], [(J_TOP_INH, C_INH), (J_TOP_EXC, C_EXC), (J_TOP_NR, C_NR)]),
          ([0, 16.3], [0, 5, 10, 15], [(J_BOT_INH, C_INH), (J_BOT_EXC, C_EXC), (J_BOT_NR, C_NR)]),
          "PYR", 101)
rci_panel(265, 413.5, [-2.85, 3.0], RED_K,
          ([0, 23], [0, 10, 20], [(K_TOP_INH, C_INH), (K_TOP_EXC, C_EXC), (K_TOP_NR, C_NR)]),
          ([0, 7.9], [0, 2, 4, 6], [(K_BOT_INH, C_INH), (K_BOT_EXC, C_EXC), (K_BOT_NR, C_NR)]),
          "MSN", 338)
rci_panel(499, 650, [-3.1, 2.95], RED_L,
          ([0, 60], [0, 20, 40, 60], [(L_TOP_INH, C_INH), (L_TOP_EXC, C_EXC), (L_TOP_NR, C_NR)]),
          ([0, 16.3], [0, 5, 10, 15], [(L_BOT_INH, C_INH), (L_BOT_EXC, C_EXC), (L_BOT_NR, C_NR)]),
          "MSN", 576)
for cx in (9, 243, 479):
    text("# cells", cx, 632, size=12.5, angle=-90)

# panel letters
for s, x, y in [("(a)", 8, 8), ("(b)", 243, 8), ("(c)", 478, 8), ("(d)", 8, 139), ("(e)", 243, 139),
                ("(f)", 478, 139), ("(g)", 7, 415), ("(h)", 243, 415), ("(i)", 478, 415),
                ("(j)", 8, 557), ("(k)", 243, 557), ("(l)", 478, 557)]:
    text(s, x, y, size=13.5, color="black")

LAYOUT["annotations"] = ANN
LAYOUT["shapes"] = SHP
fig.update_layout(**LAYOUT)
fig.write_html("out.html", config={"displayModeBar": False},
               post_script="document.body.style.margin='0px';document.body.style.overflow='hidden';")
